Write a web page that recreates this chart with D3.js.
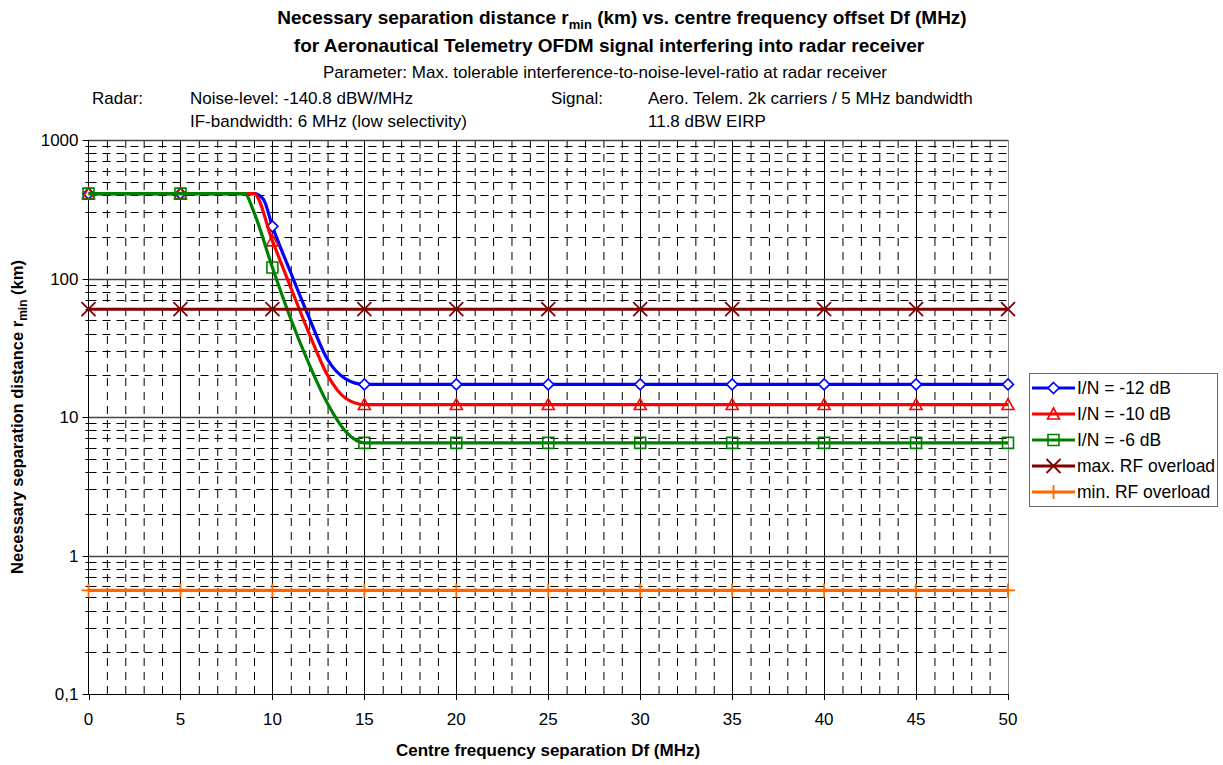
<!DOCTYPE html>
<html><head><meta charset="utf-8">
<script src="https://cdn.jsdelivr.net/npm/d3@7"></script>
<style>
body{margin:0;background:#fff;}
text{font-family:"Liberation Sans",Arial,sans-serif;fill:#000;}
</style></head>
<body><svg id="c" width="1223" height="765"></svg>
<script>
// ---- data ----
const xTicks = [0,5,10,15,20,25,30,35,40,45,50];
const yTicks = [0.1,1,10,100,1000];
const yTickLabels = ["0,1","1","10","100","1000"];
const seriesNames = ["I/N = -12 dB","I/N = -10 dB","I/N = -6 dB","max. RF overload","min. RF overload"];

const xIN12 = [0,5,8,9,9.5,10,11,12,13,14,15,20,25,30,35,40,45,50];
const yIN12 = [410,410,410,410,375,238,110,52,26,18.8,17.2,17.2,17.2,17.2,17.2,17.2,17.2,17.2];
const xIN10 = [0,5,8,9,10,11,12,13,14,15,20,25,30,35,40,45,50];
const yIN10 = [410,410,410,410,187,86,40,20,13.6,12.3,12.3,12.3,12.3,12.3,12.3,12.3,12.3];
const xIN6  = [0,5,8,8.5,9,10,11,12,13,14,15,20,25,30,35,40,45,50];
const yIN6  = [410,410,410,410,300,120,51,24,12.5,7.8,6.5,6.5,6.5,6.5,6.5,6.5,6.5,6.5];
const xOverload = [0,5,10,15,20,25,30,35,40,45,50];
const yMaxOverload = [60,60,60,60,60,60,60,60,60,60,60];
const yMinOverload = [0.56,0.56,0.56,0.56,0.56,0.56,0.56,0.56,0.56,0.56,0.56];

const colors = ["#0000FF","#FF0000","#008000","#800000","#FF6600"];
const shapes = ["diamond","triangle","square","x","plus"];

// ---- layout ----
const L = 88.5, R = 1008, T = 140, B = 694;
const svg = d3.select("#c");
const x = d3.scaleLinear().domain([0,50]).range([L,R]);
const y = d3.scaleLog().domain([0.1,1000]).range([B,T]);

// minor grid
const g = svg.append("g");
const minorX = d3.range(1,50).filter(v=>v%5!==0);
g.selectAll(".mx").data(minorX).enter().append("line")
  .attr("x1",d=>x(d)+0.5).attr("x2",d=>x(d)+0.5).attr("y1",T).attr("y2",B)
  .attr("stroke","#000").attr("stroke-width",1).attr("stroke-dasharray","8,6");
const minorY = [];
[0.1,1,10,100].forEach(dec=>{for(let k=2;k<=9;k++) minorY.push(dec*k);});
g.selectAll(".my").data(minorY).enter().append("line")
  .attr("x1",L).attr("x2",R).attr("y1",d=>Math.round(y(d))+0.5).attr("y2",d=>Math.round(y(d))+0.5)
  .attr("stroke","#000").attr("stroke-width",1).attr("stroke-dasharray","8,6");
// major grid
g.selectAll(".Mx").data(xTicks.slice(1)).enter().append("line")
  .attr("x1",d=>Math.round(x(d))+0.5).attr("x2",d=>Math.round(x(d))+0.5).attr("y1",T).attr("y2",B)
  .attr("stroke",d=>d===50?"#888":"#000").attr("stroke-width",1);
g.selectAll(".My").data(yTicks.slice(1)).enter().append("line")
  .attr("x1",L).attr("x2",R).attr("y1",d=>Math.round(y(d))+0.5).attr("y2",d=>Math.round(y(d))+0.5)
  .attr("stroke","#444").attr("stroke-width",1.4);

// axes
const ax = svg.append("g");
ax.append("line").attr("x1",L).attr("x2",L).attr("y1",T).attr("y2",B+0.5).attr("stroke","#000");
ax.append("line").attr("x1",L-5).attr("x2",R).attr("y1",B+0.5).attr("y2",B+0.5).attr("stroke","#000");
ax.selectAll(".yt").data(yTicks).enter().append("line")
  .attr("x1",L-6).attr("x2",L).attr("y1",d=>Math.round(y(d))+0.5).attr("y2",d=>Math.round(y(d))+0.5).attr("stroke","#000");
ax.selectAll(".ymt").data(minorY).enter().append("line")
  .attr("x1",L-3).attr("x2",L+3).attr("y1",d=>Math.round(y(d))+0.5).attr("y2",d=>Math.round(y(d))+0.5).attr("stroke","#000");
ax.selectAll(".xt").data(xTicks).enter().append("line")
  .attr("x1",d=>Math.round(x(d))+0.5).attr("x2",d=>Math.round(x(d))+0.5).attr("y1",B).attr("y2",B+6).attr("stroke","#000");
ax.selectAll(".yl").data(yTicks).enter().append("text")
  .attr("x",L-10).attr("y",d=>y(d)+6).attr("text-anchor","end").attr("font-size",17)
  .text((d,i)=>yTickLabels[i]);
ax.selectAll(".xl").data(xTicks).enter().append("text")
  .attr("x",d=>x(d)).attr("y",B+31).attr("text-anchor","middle").attr("font-size",17)
  .text(d=>d);

// series
const seriesData = [
  xIN12.map((v,i)=>[v,yIN12[i]]),
  xIN10.map((v,i)=>[v,yIN10[i]]),
  xIN6.map((v,i)=>[v,yIN6[i]]),
  xOverload.map((v,i)=>[v,yMaxOverload[i]]),
  xOverload.map((v,i)=>[v,yMinOverload[i]])
];
const line = d3.line().x(d=>x(d[0])).y(d=>y(d[1])).curve(d3.curveMonotoneX);

function marker(sel, shape, color){
  if(shape==="diamond") sel.append("path").attr("d","M0,-5.5L5.5,0L0,5.5L-5.5,0Z").attr("fill","#fff").attr("stroke",color).attr("stroke-width",1.6);
  if(shape==="triangle") sel.append("path").attr("d","M0,-6L6,5L-6,5Z").attr("fill","none").attr("stroke",color).attr("stroke-width",1.6);
  if(shape==="square") sel.append("path").attr("d","M-5.5,-5.5H5.5V5.5H-5.5Z").attr("fill","none").attr("stroke",color).attr("stroke-width",1.6);
  if(shape==="x") sel.append("path").attr("d","M-7,-7L7,7M-7,7L7,-7").attr("stroke",color).attr("stroke-width",1.8);
  if(shape==="plus") sel.append("path").attr("d","M0,-7V7M-7,0H7").attr("stroke",color).attr("stroke-width",1.8);
}

const sg = svg.append("g");
seriesData.forEach((data,i)=>{
  const gg = sg.append("g");
  gg.append("path").datum(data).attr("d",line).attr("fill","none")
    .attr("stroke",colors[i]).attr("stroke-width",3.2).attr("stroke-linejoin","round");
  data.filter(d=>d[0]%5===0).forEach(d=>{
    const m = gg.append("g").attr("transform",`translate(${x(d[0])},${y(d[1])})`);
    marker(m, shapes[i], colors[i]);
  });
});

// legend
const lg = svg.append("g");
lg.append("rect").attr("x",1029.5).attr("y",373.5).attr("width",188).attr("height",133)
  .attr("fill","#fff").attr("stroke","#666").attr("stroke-width",1);
const legY = [388,414,440,466,492];
seriesNames.forEach((n,i)=>{
  lg.append("line").attr("x1",1032).attr("x2",1075).attr("y1",legY[i]).attr("y2",legY[i])
    .attr("stroke",colors[i]).attr("stroke-width",3.2);
  const m = lg.append("g").attr("transform",`translate(1053.5,${legY[i]})`);
  marker(m, shapes[i], colors[i]);
  lg.append("text").attr("x",1077).attr("y",legY[i]+6).attr("font-size",17.5).text(n);
});

// titles
const t = svg.append("g");
const t1 = t.append("text").attr("x",622).attr("y",24).attr("text-anchor","middle").attr("font-size",19).attr("font-weight","bold");
t1.append("tspan").text("Necessary separation distance r");
t1.append("tspan").attr("font-size",13).attr("dy",5).text("min");
t1.append("tspan").attr("dy",-5).text(" (km) vs. centre frequency offset Df (MHz)");
t.append("text").attr("x",609).attr("y",52).attr("text-anchor","middle").attr("font-size",19).attr("font-weight","bold")
  .text("for Aeronautical Telemetry OFDM signal interfering into radar receiver");
t.append("text").attr("x",605).attr("y",78).attr("text-anchor","middle").attr("font-size",17)
  .text("Parameter: Max. tolerable interference-to-noise-level-ratio at radar receiver");
t.append("text").attr("x",92).attr("y",104).attr("font-size",17).text("Radar:");
t.append("text").attr("x",190).attr("y",104).attr("font-size",17).text("Noise-level: -140.8 dBW/MHz");
t.append("text").attr("x",190).attr("y",127).attr("font-size",17).text("IF-bandwidth: 6 MHz (low selectivity)");
t.append("text").attr("x",551).attr("y",104).attr("font-size",17).text("Signal:");
t.append("text").attr("x",648).attr("y",104).attr("font-size",17).text("Aero. Telem. 2k carriers / 5 MHz bandwidth");
t.append("text").attr("x",648).attr("y",127).attr("font-size",17).text("11.8 dBW EIRP");

// axis titles
t.append("text").attr("x",548).attr("y",756).attr("text-anchor","middle").attr("font-size",17).attr("font-weight","bold")
  .text("Centre frequency separation Df (MHz)");
const yt = t.append("text").attr("transform","translate(23,417) rotate(-90)").attr("text-anchor","middle")
  .attr("font-size",16.5).attr("font-weight","bold");
yt.append("tspan").text("Necessary separation distance r");
yt.append("tspan").attr("font-size",12).attr("dy",4).text("min");
yt.append("tspan").attr("dy",-4).text(" (km)");
</script></body></html>
